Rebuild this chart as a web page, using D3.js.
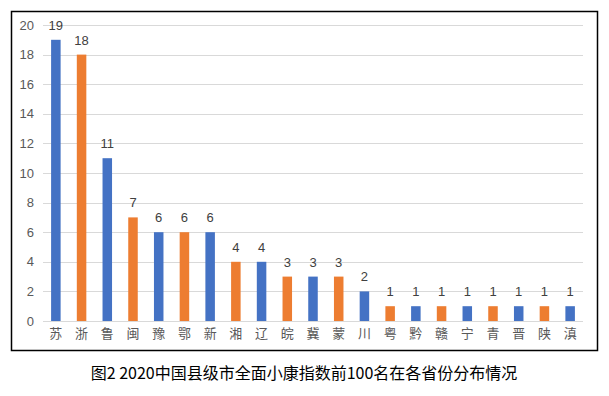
<!DOCTYPE html>
<html>
<head>
<meta charset="utf-8">
<script src="https://cdn.jsdelivr.net/npm/d3@7"></script>
<style>
  body { margin: 0; background: #fff; }
  svg { display: block; font-family: "Noto Sans CJK SC", "Noto Sans", sans-serif; }
</style>
</head>
<body>
<svg id="chart" width="609" height="396"></svg>
<script>
const provinces = ["苏", "浙", "鲁", "闽", "豫", "鄂", "新", "湘", "辽", "皖", "冀", "蒙", "川", "粤", "黔", "赣", "宁", "青", "晋", "陕", "滇"];
const counts = [19, 18, 11, 7, 6, 6, 6, 4, 4, 3, 3, 3, 2, 1, 1, 1, 1, 1, 1, 1, 1];
const yTicks = [0, 2, 4, 6, 8, 10, 12, 14, 16, 18, 20];
const colors = ["#4472C4", "#ED7D31"];
const caption = "图2 2020中国县级市全面小康指数前100名在各省份分布情况";

const svg = d3.select("#chart");

// outer frame
svg.append("rect")
  .attr("x", 11.5).attr("y", 11.5)
  .attr("width", 586).attr("height", 339)
  .attr("fill", "none")
  .attr("stroke", "#000")
  .attr("stroke-width", 1.5);

const x = d3.scaleBand()
  .domain(provinces)
  .range([43, 583])
  .paddingInner(0.63)
  .paddingOuter(0.315);

const y = d3.scaleLinear()
  .domain([0, 20])
  .range([321, 25]);

// gridlines
svg.append("g")
  .selectAll("line")
  .data(yTicks)
  .join("line")
  .attr("x1", 43).attr("x2", 583)
  .attr("y1", d => Math.round(y(d)) + 0.5)
  .attr("y2", d => Math.round(y(d)) + 0.5)
  .attr("stroke", "#d9d9d9")
  .attr("stroke-width", 1);

// y axis labels
const yAxis = svg.append("g")
  .attr("transform", "translate(43,0)")
  .call(d3.axisLeft(y).tickValues(yTicks).tickSize(0).tickPadding(9));
yAxis.select(".domain").remove();
yAxis.selectAll("text")
  .attr("fill", "#595959")
  .style("font-size", "13px")
  .style("font-family", "'Liberation Sans', Arial, sans-serif");

// x axis labels
const xAxis = svg.append("g")
  .attr("transform", "translate(0,321)")
  .call(d3.axisBottom(x).tickSize(0).tickPadding(8));
xAxis.select(".domain").remove();
xAxis.selectAll("text")
  .attr("fill", "#595959")
  .style("font-size", "13px")
  .style("font-family", "'Noto Sans CJK SC', sans-serif");

// bars
svg.append("g")
  .selectAll("rect")
  .data(provinces)
  .join("rect")
  .attr("x", d => x(d))
  .attr("width", x.bandwidth())
  .attr("y", (d, i) => y(counts[i]))
  .attr("height", (d, i) => y(0) - y(counts[i]))
  .attr("fill", (d, i) => colors[i % 2]);

// value labels
svg.append("g")
  .selectAll("text")
  .data(provinces)
  .join("text")
  .attr("x", d => x(d) + x.bandwidth() / 2)
  .attr("y", (d, i) => y(counts[i]) - 10)
  .attr("text-anchor", "middle")
  .attr("fill", "#404040")
  .style("font-size", "13px")
  .style("font-family", "'Liberation Sans', Arial, sans-serif")
  .text((d, i) => counts[i]);

// caption
svg.append("text")
  .attr("x", 304)
  .attr("y", 379)
  .attr("text-anchor", "middle")
  .attr("fill", "#000")
  .style("font-size", "16px")
  .text(caption);
</script>
</body>
</html>
